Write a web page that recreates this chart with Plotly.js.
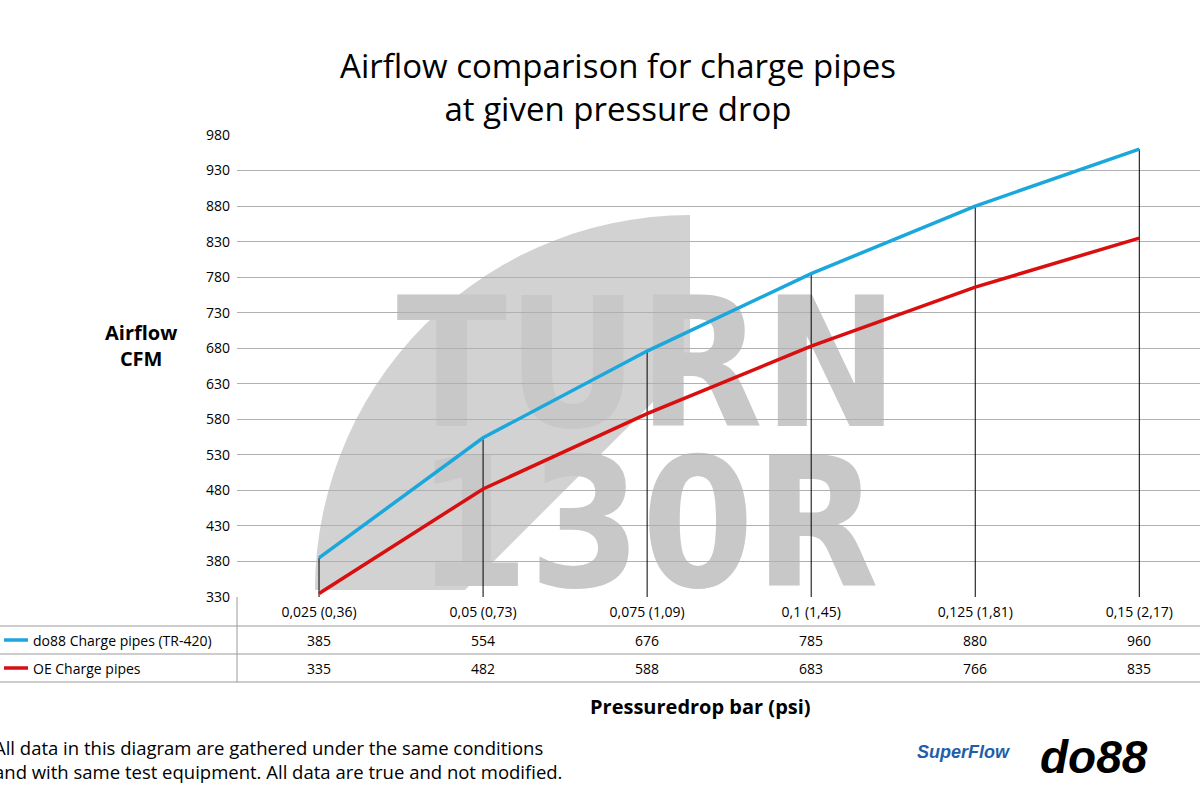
<!DOCTYPE html>
<html><head><meta charset="utf-8">
<script src="https://cdn.plot.ly/plotly-3.0.1.min.js"></script>
<style>body{margin:0;background:#fff}</style>
</head><body>
<div id="chart" style="width:1200px;height:800px"></div>
<script>
var categories = ['0,025 (0,36)', '0,05 (0,73)', '0,075 (1,09)', '0,1 (1,45)', '0,125 (1,81)', '0,15 (2,17)']
var do88Values = [385, 554, 676, 785, 880, 960]
var oeValues = [335, 482, 588, 683, 766, 835]
var seriesNames = ['do88 Charge pipes (TR-420)', 'OE Charge pipes']
var seriesColors = ['#1aa7dc', '#d90f0f']

// pixel helpers (plot area: x 237..1200, y 135..597)
var T = 135, B = 597, L = 237, R = 1200
function py(p) { return (B - p) / (B - T) }
function px(p) { return (p - L) / (R - L) }

var idx = categories.map((c, i) => i)

// vertical drop lines from axis to top value
var dx = [], dy = []
idx.forEach(i => { dx.push(i, i, null); dy.push(330, do88Values[i], null) })

var data = [
  { x: dx, y: dy, mode: 'lines', line: { color: '#000', width: 1 }, hoverinfo: 'skip', showlegend: false },
  { x: idx, y: do88Values, mode: 'lines', line: { color: seriesColors[0], width: 3.5 }, name: seriesNames[0], showlegend: false },
  { x: idx, y: oeValues, mode: 'lines', line: { color: seriesColors[1], width: 3.5 }, name: seriesNames[1], showlegend: false }
]

var shapes = []
var ann = []

// watermark arc
var cx = 690, cy = 590, r = 375, pts = []
for (var a = 180; a >= 90; a -= 3) {
  var ang = a * Math.PI / 180
  pts.push([cx + r * Math.cos(ang), cy - r * Math.sin(ang)])
}
var inner = 0.6
var path = 'M ' + pts.map(p => px(p[0]).toFixed(4) + ',' + py(p[1]).toFixed(4)).join(' L ')
path += ' L ' + px(cx) + ',' + py(cy - r * inner) + ' L ' + px(cx - r * inner) + ',' + py(cy) + ' Z'
shapes.push({ type: 'path', xref: 'paper', yref: 'paper', path: path, fillcolor: '#d2d2d2', line: { width: 0 }, layer: 'below' })
shapes.push({ type: 'rect', xref: 'paper', yref: 'paper', x0: px(430), x1: px(865), y0: py(430), y1: py(270),
  line: { width: 0 }, fillcolor: 'rgba(0,0,0,0)', layer: 'below',
  label: { text: '<b>TURN</b>', font: { family: 'DejaVu Sans Condensed', size: 180, color: '#c8c8c8' } } })
shapes.push({ type: 'rect', xref: 'paper', yref: 'paper', x0: px(430), x1: px(865), y0: py(590), y1: py(430),
  line: { width: 0 }, fillcolor: 'rgba(0,0,0,0)', layer: 'below',
  label: { text: '<b>130R</b>', font: { family: 'DejaVu Sans Condensed', size: 180, color: '#c8c8c8' } } })

// table lines
;[626, 654, 682].forEach(y => shapes.push({ type: 'line', xref: 'paper', yref: 'paper', x0: px(0), x1: 1, y0: py(y), y1: py(y), line: { color: '#9a9a9a', width: 1 } }))
shapes.push({ type: 'line', xref: 'paper', yref: 'paper', x0: 0, x1: 0, y0: py(597), y1: py(682), line: { color: '#9a9a9a', width: 1 } })

// table rows
var rows = [do88Values, oeValues]
rows.forEach((vals, r) => {
  var yc = py(640 + r * 28)
  shapes.push({ type: 'line', xref: 'paper', yref: 'paper', x0: px(4), x1: px(28), y0: yc, y1: yc, line: { color: seriesColors[r], width: 3.5 } })
  ann.push({ xref: 'paper', yref: 'paper', x: px(31), y: yc, yanchor: 'middle', text: seriesNames[r], showarrow: false, xanchor: 'left', font: { size: 14 } })
  vals.forEach((v, i) => ann.push({ xref: 'x', yref: 'paper', x: i, y: yc, yanchor: 'middle', text: String(v), showarrow: false, font: { size: 14 } }))
})

ann.push({ xref: 'paper', yref: 'paper', x: px(103), y: py(345), yanchor: 'middle', text: '<b>Airflow<br>CFM</b>', showarrow: false, font: { size: 20 } })
ann.push({ xref: 'paper', yref: 'paper', x: px(700), y: py(706), yanchor: 'middle', text: '<b>Pressuredrop bar (psi)</b>', showarrow: false, font: { size: 20 } })
ann.push({ xref: 'paper', yref: 'paper', x: px(-8), y: py(759), yanchor: 'middle', xanchor: 'left', align: 'left',
  text: 'All data in this diagram are gathered under the same conditions<br>and with same test equipment. All data are true and not modified.', showarrow: false, font: { size: 18.5 } })
ann.push({ xref: 'paper', yref: 'paper', x: px(1012), y: py(752), yanchor: 'middle', text: '<b><i>SuperFlow</i></b>', showarrow: false, font: { size: 18, color: '#1f5ea8', family: 'Liberation Sans' } })
ann.push({ xref: 'paper', yref: 'paper', x: px(1150), y: py(757), yanchor: 'middle', text: '<b><i>do88</i></b>', showarrow: false, font: { size: 46, color: '#000', family: 'Liberation Sans' } })

var layout = {
  width: 1200, height: 800,
  margin: { l: L, r: 0, t: T, b: 800 - B },
  paper_bgcolor: '#fff', plot_bgcolor: '#fff',
  font: { family: 'Open Sans', color: '#000', size: 14 },
  title: { text: 'Airflow comparison for charge pipes<br>at given pressure drop', x: 0.515, xanchor: 'center', yref: 'container', y: 1 - 78 / 800, yanchor: 'middle', font: { size: 33 } },
  xaxis: { range: [-0.5, 5.37], tickvals: idx, ticktext: categories, showgrid: false, zeroline: false, ticks: '', ticklabelstandoff: 5, fixedrange: true, tickfont: { size: 14 } },
  yaxis: { range: [330, 980], dtick: 50, tick0: 330, gridcolor: '#b0b0b0', gridwidth: 1, zeroline: false, ticks: '', ticklabelstandoff: 6, tickfont: { size: 14 }, automargin: false },
  shapes: shapes, annotations: ann, showlegend: false
}
Plotly.newPlot('chart', data, layout, { staticPlot: true, displayModeBar: false })
</script>
</body></html>
